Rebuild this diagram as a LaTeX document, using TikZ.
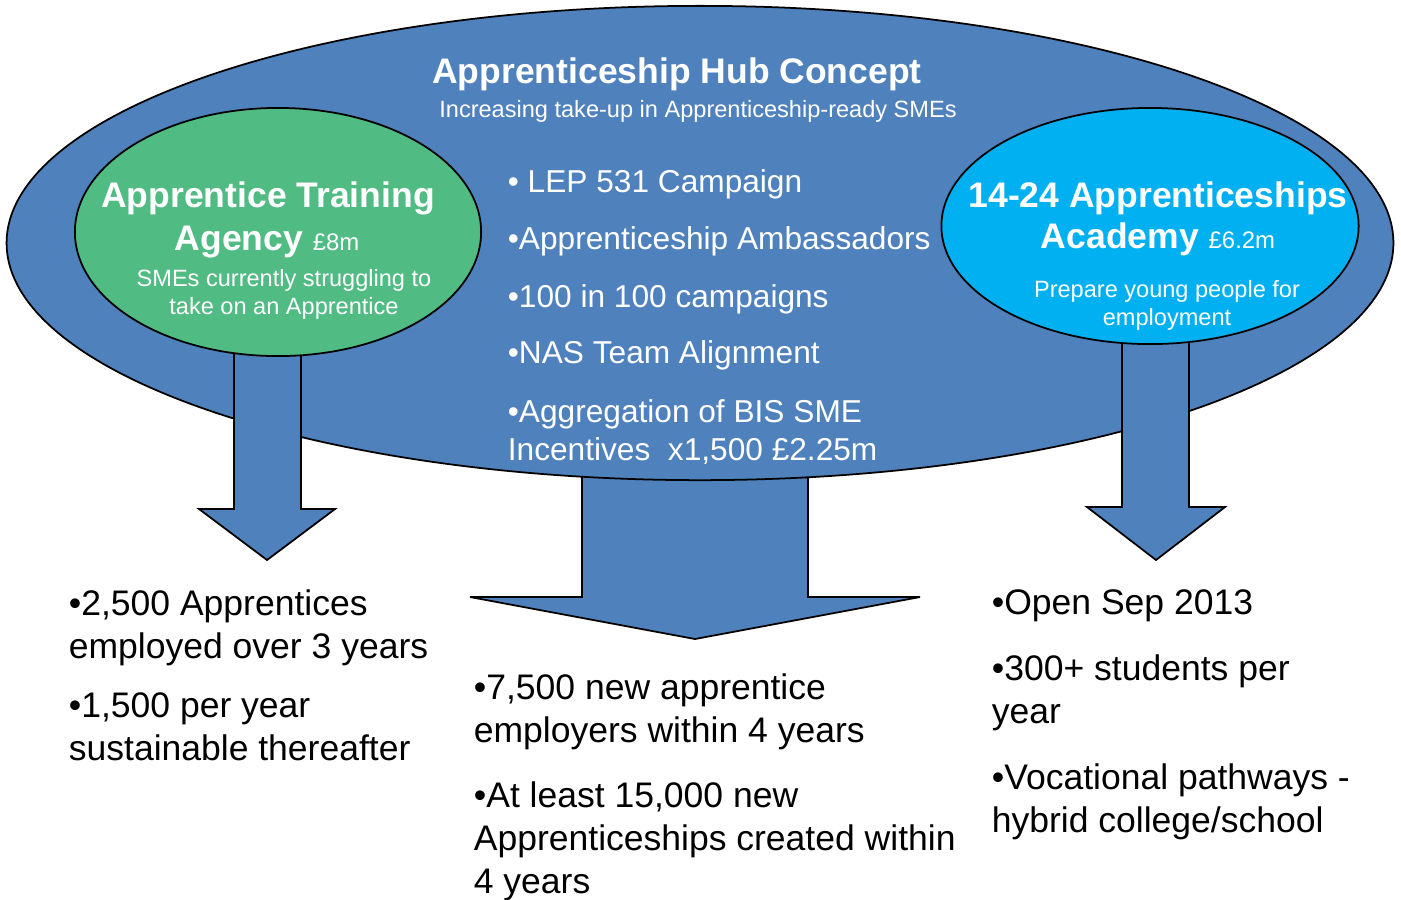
\documentclass[tikz,border=0pt]{standalone}
\usepackage{fontspec}
\setmainfont{Liberation Sans}
\usetikzlibrary{shapes.geometric}

\definecolor{hubblue}{RGB}{79,129,189}
\definecolor{atagreen}{RGB}{80,187,131}
\definecolor{acadcyan}{RGB}{0,176,240}

\begin{document}
\begin{tikzpicture}
  [x=0.01cm,y=-0.01cm,line width=0.5pt,
   blob/.style={ellipse,draw=black,inner sep=0pt},
   bigarrow/.style={draw=black,fill=hubblue,line join=miter},
   wtxt/.style={text=white,inner sep=0pt,anchor=base},
   item/.style={text=white,inner sep=0pt,anchor=base west,align=left,font=\fontsize{9}{10.8}\selectfont},
   outcome/.style={text=black,inner sep=0pt,anchor=base west,align=left,font=\fontsize{10.1}{12.2}\selectfont}]
  \useasboundingbox (0,0) rectangle (1401,899);

  % arrow behind the hub
  \draw[bigarrow] (582,440) -- (582,597) -- (470,597) -- (695,639) -- (920,597) -- (808,597) -- (808,440);

  \node[blob,fill=hubblue,minimum width=13.86cm,minimum height=4.74cm] (hub) at (700,243) {};

  % side arrows
  \draw[bigarrow] (234,330) -- (234,509) -- (199,509) -- (267,560) -- (335,509) -- (301,509) -- (301,330);
  \draw[bigarrow] (1122,320) -- (1122,507) -- (1087,507) -- (1156,560) -- (1225,507) -- (1189,507) -- (1189,320);

  \node[blob,fill=atagreen,minimum width=4.06cm,minimum height=2.48cm] (ata) at (278,232) {};
  \node[blob,fill=acadcyan,minimum width=4.17cm,minimum height=2.36cm] (academy) at (1150,226) {};

  % hub heading
  \node[wtxt,font=\fontsize{10.1}{12}\selectfont\bfseries] (title) at (677,83) {Apprenticeship Hub Concept};
  \node[wtxt,font=\fontsize{6.7}{8}\selectfont] (subtitle) at (698,117) {Increasing take-up in Apprenticeship-ready SMEs};

  % training agency
  \node[wtxt,font=\fontsize{10.1}{12}\selectfont\bfseries] (atatitle) at (268,207) {Apprentice Training};
  \node[wtxt,font=\fontsize{10.1}{12}\selectfont\bfseries] (atafund) at (267,250) {Agency {\mdseries\fontsize{6.8}{8}\selectfont £8m}};
  \node[wtxt,font=\fontsize{6.7}{8}\selectfont] (atasme) at (284,286) {SMEs currently struggling to};
  \node[wtxt,font=\fontsize{6.7}{8}\selectfont] (atatake) at (284,314) {take on an Apprentice};

  % academy
  \node[wtxt,font=\fontsize{10.1}{12}\selectfont\bfseries] (actitle) at (1158,207) {14-24 Apprenticeships};
  \node[wtxt,font=\fontsize{10.1}{12}\selectfont\bfseries] (acfund) at (1158,248) {Academy {\mdseries\fontsize{6.8}{8}\selectfont £6.2m}};
  \node[wtxt,font=\fontsize{6.7}{8}\selectfont] (acprep) at (1167,297) {Prepare young people for};
  \node[wtxt,font=\fontsize{6.7}{8}\selectfont] (acemp) at (1167,325) {employment};

  % hub list (base = last line)
  \node[item] (lep) at (507,192) {• LEP 531 Campaign};
  \node[item] (ambass) at (507,249) {•Apprenticeship Ambassadors};
  \node[item] (hundred) at (507,307) {•100 in 100 campaigns};
  \node[item] (nas) at (507,363) {•NAS Team Alignment};
  \node[item] (bis) at (507,460) {•Aggregation of BIS SME\\Incentives\ \ x1,500 £2.25m};

  % outcomes
  \node[outcome] (employed) at (68,658) {•2,500 Apprentices\\employed over 3 years};
  \node[outcome] (sustain) at (68,760) {•1,500 per year\\sustainable thereafter};
  \node[outcome] (newemp) at (473,742) {•7,500 new apprentice\\employers within 4 years};
  \node[outcome] (newapp) at (473,893) {•At least 15,000 new\\Apprenticeships created within\\4 years};
  \node[outcome] (open) at (991,614) {•Open Sep 2013};
  \node[outcome] (students) at (991,723) {•300+ students per\\year};
  \node[outcome] (vocational) at (991,832) {•Vocational pathways -\\hybrid college/school};
\end{tikzpicture}
\end{document}
